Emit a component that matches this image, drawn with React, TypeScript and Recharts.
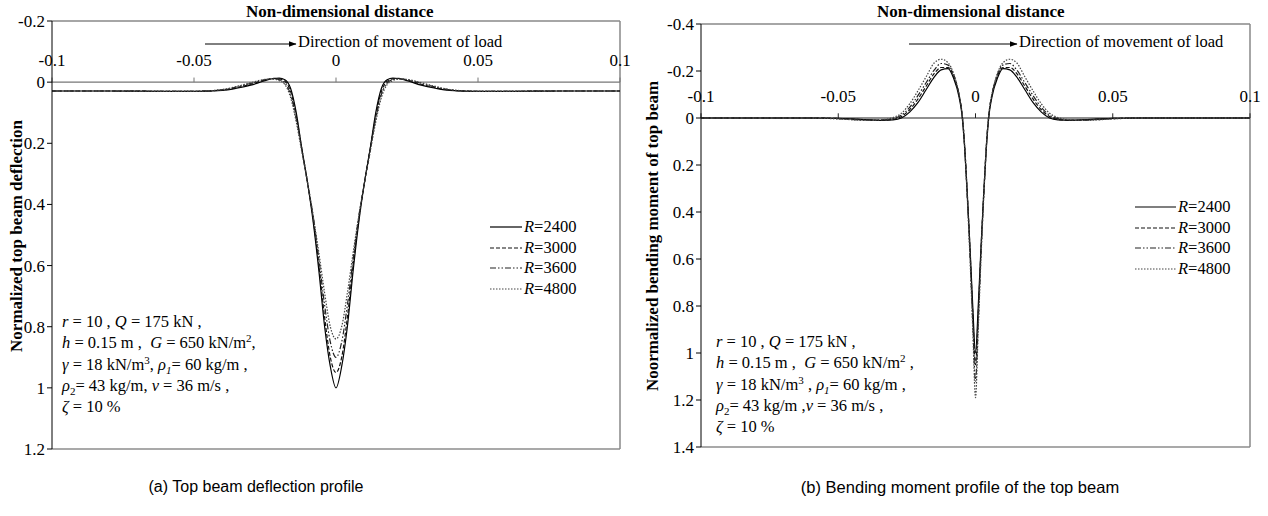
import { LineChart, Line, XAxis, YAxis, ReferenceLine, ReferenceDot } from "recharts";

const SERIF = "Liberation Serif, DejaVu Serif, Noto Serif, Times New Roman, Times, serif";
const SANS = "Liberation Sans, Arial, sans-serif";

// deflection chart (a)
const xDefl = [
  -0.1, -0.08, -0.06, -0.05, -0.04, -0.035, -0.03, -0.025, -0.022, -0.02, -0.018, -0.016, -0.014, -0.012, -0.01,
  -0.008, -0.006, -0.004, -0.002, 0, 0.002, 0.004, 0.006, 0.008, 0.01, 0.012, 0.014, 0.016, 0.018, 0.02, 0.022,
  0.025, 0.03, 0.035, 0.04, 0.05, 0.06, 0.08, 0.1,
];
const defl2400 = [
  0.029, 0.029, 0.03, 0.03, 0.027, 0.02, 0.01, -0.005, -0.012, -0.013, -0.008, 0.02, 0.1, 0.22, 0.33,
  0.46, 0.62, 0.8, 0.93, 1.0, 0.93, 0.8, 0.62, 0.46, 0.33, 0.22, 0.1, 0.02, -0.008, -0.013, -0.012,
  -0.005, 0.01, 0.02, 0.027, 0.03, 0.03, 0.029, 0.029,
];
const defl3000 = [
  0.029, 0.029, 0.03, 0.03, 0.026, 0.018, 0.007, -0.007, -0.012, -0.011, -0.003, 0.03, 0.11, 0.22, 0.33,
  0.45, 0.6, 0.77, 0.9, 0.95, 0.9, 0.77, 0.6, 0.45, 0.33, 0.22, 0.11, 0.03, -0.003, -0.011, -0.012,
  -0.007, 0.007, 0.018, 0.026, 0.03, 0.03, 0.029, 0.029,
];
const defl3600 = [
  0.029, 0.029, 0.03, 0.03, 0.025, 0.016, 0.004, -0.008, -0.011, -0.008, 0.003, 0.04, 0.12, 0.22, 0.33,
  0.44, 0.58, 0.73, 0.85, 0.9, 0.85, 0.73, 0.58, 0.44, 0.33, 0.22, 0.12, 0.04, 0.003, -0.008, -0.011,
  -0.008, 0.004, 0.016, 0.025, 0.03, 0.03, 0.029, 0.029,
];
const defl4800 = [
  0.029, 0.029, 0.03, 0.03, 0.024, 0.014, 0.002, -0.009, -0.01, -0.005, 0.008, 0.05, 0.13, 0.23, 0.33,
  0.44, 0.56, 0.69, 0.8, 0.84, 0.8, 0.69, 0.56, 0.44, 0.33, 0.23, 0.13, 0.05, 0.008, -0.005, -0.01,
  -0.009, 0.002, 0.014, 0.024, 0.03, 0.03, 0.029, 0.029,
];

// bending moment chart (b)
const xMom = [
  -0.1, -0.08, -0.06, -0.05, -0.04, -0.035, -0.03, -0.027, -0.024, -0.021, -0.018, -0.015, -0.0125, -0.01, -0.008,
  -0.006, -0.005, -0.004, -0.003, -0.002, -0.001, 0, 0.001, 0.002, 0.003, 0.004, 0.005, 0.006, 0.008, 0.01, 0.0125,
  0.015, 0.018, 0.021, 0.024, 0.027, 0.03, 0.035, 0.04, 0.05, 0.06, 0.08, 0.1,
];
const mom2400 = [
  0, 0, 0, 0.002, 0.007, 0.01, 0.008, 0, -0.025, -0.065, -0.12, -0.175, -0.205, -0.21, -0.17,
  -0.09, -0.02, 0.12, 0.32, 0.55, 0.8, 1.0, 0.8, 0.55, 0.32, 0.12, -0.02, -0.09, -0.17, -0.21, -0.205,
  -0.175, -0.12, -0.065, -0.025, 0, 0.008, 0.01, 0.007, 0.002, 0, 0, 0,
];
const mom3000 = [
  0, 0, 0, 0.002, 0.008, 0.01, 0.006, -0.006, -0.035, -0.08, -0.135, -0.19, -0.215, -0.215, -0.18,
  -0.1, -0.03, 0.11, 0.32, 0.56, 0.83, 1.05, 0.83, 0.56, 0.32, 0.11, -0.03, -0.1, -0.18, -0.215, -0.215,
  -0.19, -0.135, -0.08, -0.035, -0.006, 0.006, 0.01, 0.008, 0.002, 0, 0, 0,
];
const mom3600 = [
  0, 0, 0, 0.003, 0.009, 0.009, 0.003, -0.012, -0.045, -0.095, -0.15, -0.205, -0.232, -0.225, -0.185,
  -0.1, -0.03, 0.11, 0.33, 0.58, 0.87, 1.12, 0.87, 0.58, 0.33, 0.11, -0.03, -0.1, -0.185, -0.225, -0.232,
  -0.205, -0.15, -0.095, -0.045, -0.012, 0.003, 0.009, 0.009, 0.003, 0, 0, 0,
];
const mom4800 = [
  0, 0, 0, 0.004, 0.01, 0.008, -0.002, -0.02, -0.06, -0.115, -0.175, -0.235, -0.25, -0.235, -0.19,
  -0.1, -0.03, 0.11, 0.34, 0.6, 0.9, 1.19, 0.9, 0.6, 0.34, 0.11, -0.03, -0.1, -0.19, -0.235, -0.25,
  -0.235, -0.175, -0.115, -0.06, -0.02, -0.002, 0.008, 0.01, 0.004, 0, 0, 0,
];

const xTicks = [-0.1, -0.05, 0, 0.05, 0.1];
const deflTicks = [-0.2, 0, 0.2, 0.4, 0.6, 0.8, 1, 1.2];
const momTicks = [-0.4, -0.2, 0, 0.2, 0.4, 0.6, 0.8, 1, 1.2, 1.4];
const seriesNames = ["R=2400", "R=3000", "R=3600", "R=4800"];
const dashes = ["", "4 2", "6 2 1.5 2 1.5 2", "1.5 1.5"];
const colors = ["#000", "#111", "#222", "#444"];

const deflData = xDefl.map((x, i) => ({ x, s0: defl2400[i], s1: defl3000[i], s2: defl3600[i], s3: defl4800[i] }));
const momData = xMom.map((x, i) => ({ x, s0: mom2400[i], s1: mom3000[i], s2: mom3600[i], s3: mom4800[i] }));

const fmt = (v: number) => String(v);

const Legend = ({ left, top, lineW }: { left: number; top: number; lineW: number }) => (
  <div style={{ position: "absolute", left, top, fontFamily: SERIF, fontSize: 16.5, lineHeight: "20.5px" }}>
    {seriesNames.map((n, i) => (
      <div key={n} style={{ display: "flex", alignItems: "center" }}>
        <svg width={lineW} height={6} style={{ marginRight: 2 }}>
          <line x1={0} y1={3} x2={lineW} y2={3} stroke={colors[i]} strokeWidth={1.2} strokeDasharray={dashes[i]} />
        </svg>
        <span>
          <i>R</i>={n.slice(2)}
        </span>
      </div>
    ))}
  </div>
);

const Params = ({ left, top, gap }: { left: number; top: number; gap?: boolean }) => (
  <div style={{ position: "absolute", left, top, fontFamily: SERIF, fontSize: 16.5, lineHeight: "21.3px", whiteSpace: "nowrap" }}>
    <div>
      <i>r</i> = 10 , <i>Q</i> = 175 kN ,
    </div>
    <div>
      <i>h</i> = 0.15 m ,&nbsp; <i>G</i> = 650 kN/m<sup style={{ fontSize: 11, lineHeight: 0 }}>2</sup>
      {gap ? " ," : ","}
    </div>
    <div>
      <i>γ</i> = 18 kN/m<sup style={{ fontSize: 11, lineHeight: 0 }}>3</sup>
      {gap ? " , " : ", "}
      <i>ρ</i>
      <sub style={{ fontSize: 11, lineHeight: 0 }}>
        <i>1</i>
      </sub>
      = 60 kg/m ,
    </div>
    <div>
      <i>ρ</i>
      <sub style={{ fontSize: 11, lineHeight: 0 }}>2</sub>= 43 kg/m{gap ? " ," : ", "}
      <i>v</i> = 36 m/s ,
    </div>
    <div>
      <i>ζ</i> = 10 %
    </div>
  </div>
);

const Overlay = () => (
  <svg style={{ position: "absolute", left: 0, top: 0 }} width={1268} height={516} pointerEvents="none">
    <defs>
      <marker id="ah" viewBox="0 0 8 6" refX={7.5} refY={3} markerWidth={8} markerHeight={6} orient="auto" markerUnits="userSpaceOnUse">
        <path d="M0,0 L8,3 L0,6 Z" fill="#000" />
      </marker>
    </defs>
    <line x1={205} y1={44} x2={296} y2={44} stroke="#000" strokeWidth={1} markerEnd="url(#ah)" />
    <line x1={909} y1={44} x2={1017} y2={44} stroke="#000" strokeWidth={1} markerEnd="url(#ah)" />
    <text
      transform="translate(22,236) rotate(-90)"
      textAnchor="middle"
      fontFamily={SERIF}
      fontSize={17}
      fontWeight="bold"
      fill="#000"
    >
      Normalized top beam deflection
    </text>
    <text
      transform="translate(658,236) rotate(-90)"
      textAnchor="middle"
      fontFamily={SERIF}
      fontSize={17}
      fontWeight="bold"
      fill="#000"
    >
      Noormalized bending moment of top beam
    </text>
  </svg>
);

const txt = (left: number, top: number, s: string, extra: React.CSSProperties = {}) => (
  <div style={{ position: "absolute", left, top, fontFamily: SERIF, fontSize: 16.5, whiteSpace: "nowrap", lineHeight: "18px", ...extra }}>{s}</div>
);

const Panel = ({
  data,
  yDomain,
  yTicks,
  width,
  margin,
  yWidth,
  tickLen,
  axisColor,
}: {
  data: any[];
  yDomain: [number, number];
  yTicks: number[];
  width: number;
  margin: any;
  yWidth: number;
  tickLen: number;
  axisColor: string;
}) => (
  <LineChart width={width} height={470} data={data} margin={margin}>
    <XAxis dataKey="x" type="number" domain={[-0.1, 0.1]} hide allowDataOverflow />
    <YAxis
      type="number"
      domain={yDomain}
      ticks={yTicks}
      reversed
      width={yWidth}
      interval={0}
      tickFormatter={fmt}
      tick={{ fill: "#000", fontFamily: SERIF, fontSize: 17 }}
      tickSize={5}
      stroke="#000"
      allowDataOverflow
    />
    <ReferenceLine y={yDomain[0]} stroke="#888" strokeWidth={1.5} />
    <ReferenceLine y={yDomain[1]} stroke="#555" strokeWidth={1.2} />
    <ReferenceLine x={0.1} stroke="#888" strokeWidth={1.5} />
    <ReferenceLine y={0} stroke={axisColor} strokeWidth={1.2} />
    {xTicks.map((t) => (
      <ReferenceLine key={"t" + t} segment={[{ x: t, y: 0 }, { x: t, y: -tickLen }]} stroke={axisColor} />
    ))}
    {xTicks.map((t) => (
      <ReferenceDot
        key={"l" + t}
        x={t}
        y={0}
        r={0}
        fill="none"
        stroke="none"
        label={{ value: fmt(t), position: "top", offset: 16, fill: "#000", fontFamily: SERIF, fontSize: 17 }}
      />
    ))}
    {seriesNames.map((n, i) => (
      <Line
        key={n}
        type="monotone"
        dataKey={"s" + i}
        name={n}
        stroke={colors[i]}
        strokeWidth={1.2}
        strokeDasharray={dashes[i]}
        dot={false}
        isAnimationActive={false}
      />
    ))}
  </LineChart>
);

export default function App() {
  return (
    <div style={{ position: "absolute", left: 0, top: 0, width: 1268, height: 516, background: "#fff", overflow: "hidden" }}>
      <div style={{ position: "absolute", left: 0, top: 0 }}>
        <Panel
          data={deflData}
          yDomain={[-0.2, 1.2]}
          yTicks={deflTicks}
          width={640}
          margin={{ top: 21, right: 20, left: 0, bottom: 21 }}
          yWidth={52}
          tickLen={0.015}
          axisColor="#777"
        />
      </div>
      <div style={{ position: "absolute", left: 640, top: 0 }}>
        <Panel
          data={momData}
          yDomain={[-0.4, 1.4]}
          yTicks={momTicks}
          width={628}
          margin={{ top: 24, right: 18, left: 0, bottom: 23 }}
          yWidth={61}
          tickLen={0.02}
          axisColor="#222"
        />
      </div>

      {txt(246, 3, "Non-dimensional distance", { fontWeight: "bold", fontSize: 17 })}
      {txt(877, 3, "Non-dimensional distance", { fontWeight: "bold", fontSize: 17 })}

      {txt(298, 33, "Direction of movement of load")}
      {txt(1019, 33, "Direction of movement of load")}

      <Overlay />

      <Legend left={490} top={217} lineW={32} />
      <Legend left={1135} top={197} lineW={41} />

      <Params left={62} top={311} />
      <Params left={716} top={331} gap />

      <div style={{ position: "absolute", left: 0, width: 512, textAlign: "center", top: 478, fontFamily: SANS, fontSize: 16 }}>
        (a) Top beam deflection profile
      </div>
      <div style={{ position: "absolute", left: 640, width: 640, textAlign: "center", top: 478, fontFamily: SANS, fontSize: 16.5 }}>
        (b) Bending moment profile of the top beam
      </div>
    </div>
  );
}
